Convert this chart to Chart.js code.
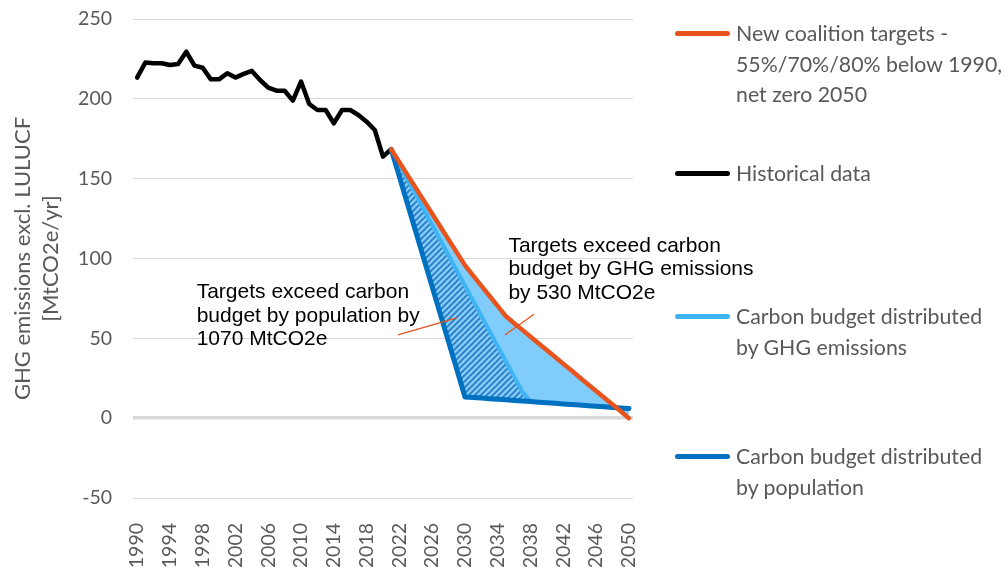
<!DOCTYPE html>
<html lang="en">
<head>
<meta charset="UTF-8">
<title>GHG emissions vs carbon budget</title>
<script src="https://cdn.jsdelivr.net/npm/chart.js"></script>
<style>
  body { margin: 0; background: #fff; }
  #wrap { position: relative; width: 1006px; height: 567px; }
  #legend { position: absolute; left: 0; top: 0; }
  .item { position: absolute; left: 675px; }
  .swatch { position: absolute; left: 0; width: 55px; height: 5px; border-radius: 3px; }
  .label { position: absolute; left: 61px; top: -15px; font: 21.3px Lato; line-height: 30.5px; color: #595959; white-space: nowrap; }
</style>
</head>
<body>
<div id="wrap">
  <canvas id="chart" width="1006" height="567"></canvas>
  <div id="legend"></div>
</div>
<script>
// categories
var years = ['1990','1991','1992','1993','1994','1995','1996','1997','1998','1999',
             '2000','2001','2002','2003','2004','2005','2006','2007','2008','2009',
             '2010','2011','2012','2013','2014','2015','2016','2017','2018','2019',
             '2020','2021','2022','2023','2024','2025','2026','2027','2028','2029',
             '2030','2031','2032','2033','2034','2035','2036','2037','2038','2039',
             '2040','2041','2042','2043','2044','2045','2046','2047','2048','2049','2050'];
var xTicks = ['1990','1994','1998','2002','2006','2010','2014','2018','2022','2026',
              '2030','2034','2038','2042','2046','2050'];

// 1990-2021
var historical = [213.3, 222.7, 222.3, 222.3, 221.2, 221.8, 229.5, 220.8, 219.5, 212.2,
                  212.2, 216.0, 213.3, 215.6, 217.5, 211.8, 207.0, 205.1, 205.1, 198.9,
                  210.8, 196.8, 193.0, 193.0, 184.7, 193.0, 193.0, 189.9, 185.7, 180.5,
                  163.8, 168.4];
// 2021-2050
var targets = [168.4, 160.3, 152.2, 144.2, 136.1, 128.0, 119.9, 111.8, 103.8, 95.7,
               89.3, 82.9, 76.5, 70.2, 63.8, 59.5, 55.3, 51.0, 46.8, 42.5,
               38.3, 34.0, 29.8, 25.5, 21.3, 17.0, 12.8, 8.5, 4.3, 0];
var byEmissions = [168.4, 159.0, 149.5, 140.0, 130.5, 121.0, 111.5, 102.0, 92.5, 83.0,
                   73.5, 64.0, 54.5, 45.0, 35.5, 26.0, 16.5, 10.4, 10.0, 9.7,
                   9.3, 8.9, 8.6, 8.2, 7.8, 7.5, 7.1, 6.7, 6.4, 6.0];
var byPopulation = [168.4, 151.2, 133.9, 116.7, 99.5, 82.3, 65.0, 47.8, 30.6, 13.3,
                    12.9, 12.6, 12.2, 11.8, 11.5, 11.1, 10.7, 10.4, 10.0, 9.7,
                    9.3, 8.9, 8.6, 8.2, 7.8, 7.5, 7.1, 6.7, 6.4, 6.0];
var lead = Array(31).fill(null);   // 1990-2020 empty for the scenario lines

var seriesLabels = [
  ['New coalition targets -', '55%/70%/80% below 1990,', 'net zero 2050'],
  ['Historical data'],
  ['Carbon budget distributed', 'by GHG emissions'],
  ['Carbon budget distributed', 'by population']
];

// text boxes: [category index, value] of first baseline, leader line ends
var notes = [
  { lines: ['Targets exceed carbon', 'budget by population by', '1070 MtCO2e'],
    at: [7.27, 75.1], leader: [[31.83, 52.1], [38.99, 62.8]] },
  { lines: ['Targets exceed carbon', 'budget by GHG emissions', 'by 530 MtCO2e'],
    at: [45.3, 104.3], leader: [[44.88, 52.1], [48.42, 65.1]] }
];

var ORANGE = '#E8541C', DARK = '#0070C0', LIGHT = '#3FB4F4', FILL = '#80CCFB', GREY = '#595959';

var ctx = document.getElementById('chart').getContext('2d');

function makeHatch() {
  var c = document.createElement('canvas');
  c.width = 6; c.height = 6;
  var g = c.getContext('2d');
  g.fillStyle = '#8ACFF7';
  g.fillRect(0, 0, 6, 6);
  g.strokeStyle = '#2F83CC';
  g.lineWidth = 2;
  g.beginPath();
  g.moveTo(-1, 7); g.lineTo(7, -1);
  g.moveTo(-1, 1); g.lineTo(1, -1);
  g.moveTo(5, 7); g.lineTo(7, 5);
  g.stroke();
  return ctx.createPattern(c, 'repeat');
}

var notePlugin = {
  id: 'notes',
  afterDatasetsDraw: function(chart) {
    var xs = chart.scales.x, ys = chart.scales.y, c = chart.ctx;
    c.save();
    notes.forEach(function(n) {
      c.strokeStyle = ORANGE;
      c.lineWidth = 1.3;
      c.beginPath();
      c.moveTo(xs.getPixelForValue(n.leader[0][0]), ys.getPixelForValue(n.leader[0][1]));
      c.lineTo(xs.getPixelForValue(n.leader[1][0]), ys.getPixelForValue(n.leader[1][1]));
      c.stroke();
      c.fillStyle = '#000';
      c.font = '21px "Liberation Sans", Arial';
      c.textBaseline = 'alphabetic';
      c.textAlign = 'left';
      var x = xs.getPixelForValue(n.at[0]), y = ys.getPixelForValue(n.at[1]);
      n.lines.forEach(function(t, i) { c.fillText(t, x, y + i * 23.5); });
    });
    c.restore();
  }
};

new Chart(ctx, {
  type: 'line',
  data: {
    labels: years,
    datasets: [
      { label: seriesLabels[0].join(' '), data: lead.concat(targets), borderColor: ORANGE,
        borderWidth: 4.5, fill: { target: 2 }, backgroundColor: FILL },
      { label: seriesLabels[3].join(' '), data: lead.concat(byPopulation), borderColor: DARK,
        borderWidth: 5, fill: false },
      { label: seriesLabels[2].join(' '), data: lead.concat(byEmissions), borderColor: LIGHT,
        borderWidth: 4, fill: { target: 1 }, backgroundColor: makeHatch() },
      { label: seriesLabels[1].join(' '), data: historical, borderColor: '#000',
        borderWidth: 4.5, fill: false }
    ]
  },
  options: {
    responsive: false,
    animation: false,
    layout: { padding: { top: 19, right: 373, left: 0, bottom: 0 } },
    elements: {
      point: { radius: 0 },
      line: { tension: 0, borderCapStyle: 'round', borderJoinStyle: 'round' }
    },
    plugins: {
      legend: { display: false },
      tooltip: { enabled: false },
      filler: { drawTime: 'beforeDatasetsDraw' }
    },
    scales: {
      x: {
        offset: true,
        grid: { display: false },
        border: { display: false },
        ticks: {
          autoSkip: false, minRotation: 90, maxRotation: 90, padding: 17,
          color: GREY, font: { family: 'Lato', size: 19.5 },
          callback: function(v) {
            var l = this.getLabelForValue(v);
            return xTicks.indexOf(l) >= 0 ? l : '';
          }
        },
        afterFit: function(s) { s.height = 69; }
      },
      y: {
        min: -50, max: 250,
        ticks: { stepSize: 50, padding: 21, color: GREY, font: { family: 'Lato', size: 19.5 } },
        grid: {
          color: '#D9D9D9', drawTicks: false,
          lineWidth: function(c) { return c.tick && c.tick.value === 0 ? 3.5 : 1; }
        },
        border: { display: false },
        title: {
          display: true,
          text: ['GHG emissions excl. LULUCF', '[MtCO2e/yr]'],
          color: GREY,
          font: { family: 'Lato', size: 22, lineHeight: 1.273 },
          padding: { top: 9, bottom: 0 }
        },
        afterFit: function(s) {
          s.width = 133;
          s.paddingTop = 0;
          s.paddingBottom = 0;
        }
      }
    }
  },
  plugins: [notePlugin]
});

// legend on the right, same order as the reference
var legendItems = [
  { text: seriesLabels[0], color: ORANGE, center: 33 },
  { text: seriesLabels[1], color: '#000', center: 173 },
  { text: seriesLabels[2], color: LIGHT, center: 316 },
  { text: seriesLabels[3], color: DARK, center: 456 }
];
var legend = document.getElementById('legend');
legendItems.forEach(function(it) {
  var d = document.createElement('div');
  d.className = 'item';
  d.style.top = it.center + 'px';
  d.innerHTML = '<div class="swatch" style="top:-2.5px;background:' + it.color + '"></div>' +
                '<div class="label">' + it.text.join('<br>') + '</div>';
  legend.appendChild(d);
});
</script>
</body>
</html>
